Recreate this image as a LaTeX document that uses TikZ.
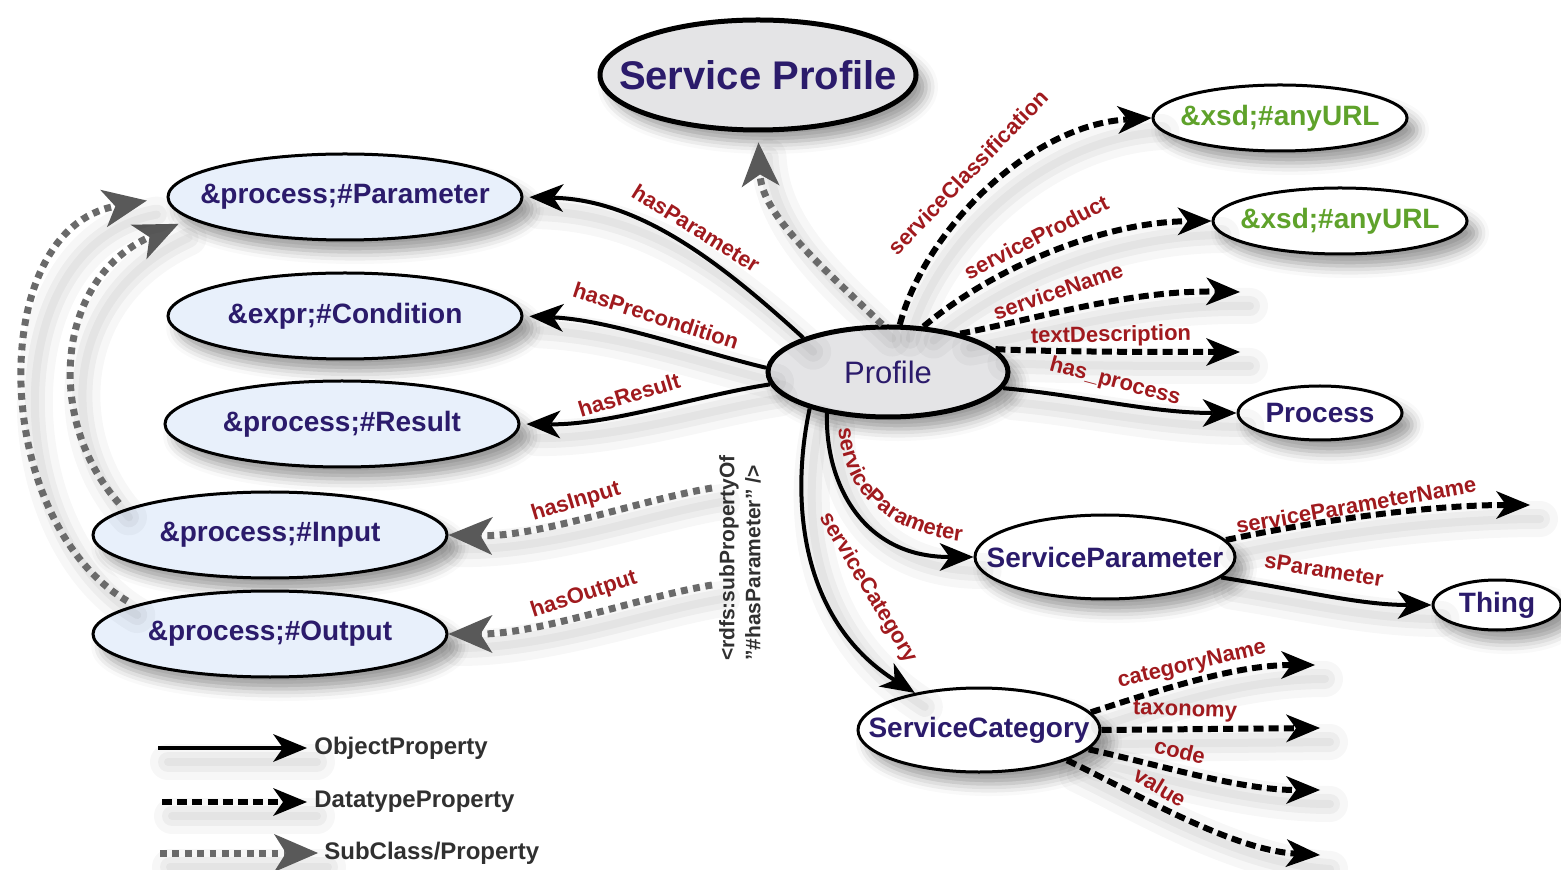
\documentclass[tikz,border=0pt]{standalone}
\usepackage{fontspec}
\setmainfont{Liberation Sans}
\usetikzlibrary{arrows.meta,shapes.geometric,shadows.blur,decorations.text}

\definecolor{navy}{HTML}{2B1B6B}
\definecolor{lblred}{HTML}{A01A1E}
\definecolor{urlgreen}{HTML}{5FA22B}
\definecolor{paleblue}{HTML}{E8F0FB}
\definecolor{palegray}{HTML}{E4E4E6}
\definecolor{subgray}{HTML}{6A6A6A}
\definecolor{legtext}{HTML}{303030}

% zero-width label box, so an ellipse keeps its given size
\newcommand\zw[1]{\makebox[0pt]{#1}}

\tikzset{
  x=0.5pt, y=-0.5pt,
  nshadow/.style={blur shadow={shadow xshift=5pt, shadow yshift=-6pt,
      shadow blur radius=6pt, shadow opacity=40}},
  cshadow/.style={
    preaction={arrows=-, draw=black, draw opacity=0.03, line width=18pt, solid,
      line cap=round, transform canvas={shift={(5pt,-7pt)}}},
    preaction={arrows=-, draw=black, draw opacity=0.04, line width=10pt, solid,
      line cap=round, transform canvas={shift={(5pt,-7pt)}}},
    preaction={arrows=-, draw=black, draw opacity=0.04, line width=4pt, solid,
      line cap=round, transform canvas={shift={(5pt,-7pt)}}}},
  sphead/.style={ellipse, draw=black, line width=2.5pt, fill=palegray, nshadow,
      inner sep=0pt, minimum width=158pt, minimum height=55pt, text=navy,
      font=\bfseries\fontsize{20}{22}\selectfont},
  hub/.style={ellipse, draw=black, line width=2.5pt, fill=palegray, nshadow,
      inner sep=0pt, minimum width=120pt, minimum height=45pt, text=navy,
      font=\fontsize{15.5}{18}\selectfont},
  cls/.style={ellipse, draw=black, line width=1.5pt, fill=paleblue, nshadow,
      inner sep=0pt, minimum width=177pt, minimum height=43pt, text=navy,
      font=\bfseries\fontsize{14}{16}\selectfont},
  url/.style={ellipse, draw=black, line width=1.5pt, fill=white, nshadow,
      inner sep=0pt, minimum width=127pt, minimum height=33pt, text=urlgreen,
      font=\bfseries\fontsize{14}{16}\selectfont},
  leaf/.style={ellipse, draw=black, line width=1.5pt, fill=white, nshadow,
      inner sep=0pt, text=navy, font=\bfseries\fontsize{14}{16}\selectfont},
  lbl/.style={text=lblred, inner sep=0pt, font=\bfseries\fontsize{11}{13}\selectfont},
  legtxt/.style={text=legtext, inner sep=0pt, anchor=west,
      font=\bfseries\fontsize{12}{14}\selectfont},
  note/.style={text=legtext, inner sep=0pt, align=left,
      font=\bfseries\fontsize{10.5}{13}\selectfont},
  obj/.style={draw=black, line width=2pt, cshadow,
      -{Stealth[length=17pt,width=14pt,inset=5pt,line width=0pt]}},
  dat/.style={draw=black, line width=3pt, dash pattern=on 5pt off 2.6pt, cshadow,
      -{Stealth[length=17pt,width=14pt,inset=5pt,line width=0pt]}},
  sub/.style={draw=subgray, line width=3.5pt, dash pattern=on 3.4pt off 2.8pt, cshadow,
      -{Stealth[length=22pt,width=19pt,inset=6pt,line width=0pt,color=black!65]}},
}

\begin{document}
\begin{tikzpicture}
\useasboundingbox (0,0) rectangle (1561,870);

% classes
\node[sphead] (SProf) at (758,75) {\zw{Service Profile}};
\node[hub] (P) at (888,372) {\zw{Profile}};
\node[cls] (Param) at (345,197) {\zw{\&process;\#Parameter}};
\node[cls] (Cond) at (345,316) {\zw{\&expr;\#Condition}};
\node[cls] (Res) at (342,424) {\zw{\&process;\#Result}};
\node[cls] (In) at (270,535) {\zw{\&process;\#Input}};
\node[cls] (Out) at (270,634) {\zw{\&process;\#Output}};
\node[url] (U1) at (1280,118) {\zw{\&xsd;\#anyURL}};
\node[url] (U2) at (1340,221) {\zw{\&xsd;\#anyURL}};
\node[leaf, minimum width=82pt, minimum height=27pt] (Proc) at (1320,413) {\zw{Process}};
\node[leaf, minimum width=130pt, minimum height=42pt] (SPar) at (1105,557) {\zw{ServiceParameter}};
\node[leaf, minimum width=64pt, minimum height=25pt] (Thing) at (1497,605) {\zw{Thing}};
\node[leaf, minimum width=121pt, minimum height=42pt] (SCat) at (979,730) {\zw{ServiceCategory}};

% open ends of datatype / sub-property arrows
\coordinate (fName) at (1240,292);
\coordinate (fText) at (1240,352);
\coordinate (fSPN) at (1530,505);
\coordinate (fCN) at (1315,665);
\coordinate (fTax) at (1320,728);
\coordinate (fCode) at (1320,790);
\coordinate (fVal) at (1320,855);
\coordinate (fIn) at (712,488);
\coordinate (fOut) at (712,585);

% object properties
\draw[obj, shorten >=3pt] (P.158) .. controls (720,262) and (640,200) .. (Param.east);
\draw[obj, shorten >=3pt] (P.178) .. controls (700,352) and (610,320) .. (Cond.east);
\draw[obj, shorten >=3pt] (P.186) .. controls (700,395) and (610,425) .. (Res.east);
\draw[obj] (P.-8) .. controls (1080,395) and (1150,413) .. (Proc.west);
\draw[obj] (P.214) .. controls (825,480) and (860,557) .. (SPar.west);
\draw[obj] (P.205) .. controls (790,500) and (800,620) .. (SCat.150);
\draw[obj] (SPar.-10) .. controls (1300,590) and (1360,605) .. (Thing.west);

% datatype properties
\draw[dat] (P.76) .. controls (925,230) and (1030,125) .. (U1.west);
\draw[dat] (P.52) .. controls (990,270) and (1100,222) .. (U2.west);
\draw[dat] (P.28) .. controls (1040,318) and (1130,290) .. (fName);
\draw[dat] (P.12) .. controls (1060,352) and (1150,352) .. (fText);
\draw[dat] (SPar.8) .. controls (1320,520) and (1430,505) .. (fSPN);
\draw[dat] (SCat.9) .. controls (1160,690) and (1235,665) .. (fCN);
\draw[dat] (SCat.east) -- (fTax);
\draw[dat] (SCat.-10) .. controls (1160,765) and (1240,790) .. (fCode);
\draw[dat] (SCat.-19) .. controls (1130,790) and (1230,850) .. (fVal);

% subclass / subproperty links
\draw[sub, shorten >=5pt] (P.97) .. controls (820,265) and (762,215) .. (SProf.south);
\draw[sub] (fIn) .. controls (640,500) and (540,537) .. (In.east);
\draw[sub] (fOut) .. controls (640,597) and (540,634) .. (Out.east);
\draw[sub, shorten <=4pt, shorten >=6pt] (In.170) .. controls (45,420) and (55,280) .. (Param.188);
\draw[sub, shorten <=4pt, shorten >=10pt] (Out.168) .. controls (-10,520) and (-15,230) .. (Param.west);

% property names
\node[lbl, rotate=-32] (lHP) at (696,228) {hasParameter};
\node[lbl, rotate=-18] (lPre) at (656,316) {hasPrecondition};
\node[lbl, rotate=17] (lRes) at (629,395) {hasResult};
\node[lbl, rotate=17] (lIn) at (576,502) {hasInput};
\node[lbl, rotate=18] (lOut) at (584,595) {hasOutput};
\node[lbl, rotate=46] (lSC) at (968,172) {serviceClassification};
\node[lbl, rotate=27] (lSPr) at (1036,237) {serviceProduct};
\node[lbl, rotate=19] (lSN) at (1058,291) {serviceName};
\node[lbl, rotate=1] (lTD) at (1111,336) {textDescription};
\node[lbl, rotate=-15] (lHPr) at (1115,382) {has\_process};
\path[decorate, decoration={text along path, text align=center, text color=lblred,
    text={|\bfseries\fontsize{11}{13}\selectfont|serviceParameter}}]
  (838,420) .. controls (840,495) and (890,535) .. (970,542);
\node[lbl, rotate=-59] (lSCa) at (868,588) {serviceCategory};
\node[lbl, rotate=10] (lSPN) at (1356,505) {serviceParameterName};
\node[lbl, rotate=-9] (lsP) at (1324,570) {sParameter};
\node[lbl, rotate=13] (lCN) at (1192,665) {categoryName};
\node[lbl, rotate=-2] (lTax) at (1185,711) {taxonomy};
\node[lbl, rotate=-14] (lCode) at (1180,751) {code};
\node[lbl, rotate=-31] (lVal) at (1160,787) {value};

% sub-property note
\node[note, rotate=90] (rdfs) at (740,558) {<rdfs:subPropertyOf\\"\#hasParameter" />};

% legend
\coordinate (k1a) at (158,748); \coordinate (k1b) at (307,748);
\coordinate (k2a) at (162,802); \coordinate (k2b) at (307,802);
\coordinate (k3a) at (160,853); \coordinate (k3b) at (318,853);
\draw[obj] (k1a) -- (k1b);
\draw[dat] (k2a) -- (k2b);
\draw[sub] (k3a) -- (k3b);
\node[legtxt] (t1) at (314,748) {ObjectProperty};
\node[legtxt] (t2) at (314,802) {DatatypeProperty};
\node[legtxt] (t3) at (324,853) {SubClass/Property};
\end{tikzpicture}
\end{document}
